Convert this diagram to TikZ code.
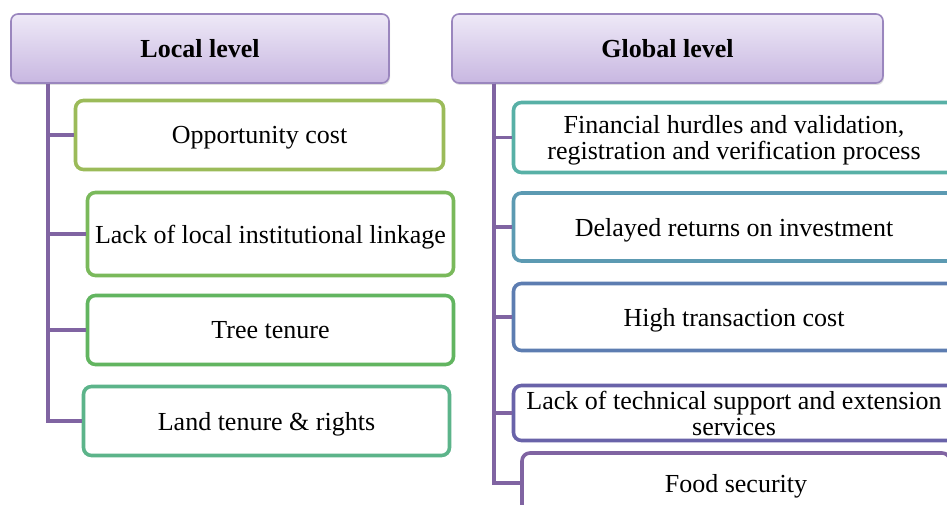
\documentclass[tikz,border=0pt]{standalone}
\usepackage{fontspec}
\setmainfont{Liberation Serif}
\usetikzlibrary{shadows}
\definecolor{hdrborder}{HTML}{9A86BE}
\definecolor{hdrtop}{HTML}{EEE9F7}
\definecolor{hdrbot}{HTML}{C8B7E1}
\definecolor{trunk}{HTML}{8064A2}
\definecolor{cA}{HTML}{9BBB59}
\definecolor{cB}{HTML}{7AB95B}
\definecolor{cC}{HTML}{62B560}
\definecolor{cD}{HTML}{5CB48A}
\definecolor{cE}{HTML}{58B0A6}
\definecolor{cF}{HTML}{5C9AB2}
\definecolor{cG}{HTML}{5D7DB1}
\definecolor{cH}{HTML}{6963A9}
\definecolor{cI}{HTML}{8064A2}
\tikzset{
  hdr/.style={draw=hdrborder, line width=1.6pt, rounded corners=7pt,
    top color=hdrtop, bottom color=hdrbot, align=center,
    font=\fontsize{26}{26}\selectfont\bfseries, inner sep=0pt, text depth=0pt,
    drop shadow={opacity=0.25, shadow xshift=1pt, shadow yshift=-2pt}},
  itembox/.style={draw=#1, fill=white, line width=3.6pt, rounded corners=8pt,
    align=center, font=\fontsize{26}{26}\selectfont, inner sep=0pt, text depth=0pt},
  conn/.style={draw=trunk, line width=3.6pt}
}
\begin{document}
\begin{tikzpicture}[x=1pt, y=-1pt]
\clip (0,0) rectangle (947,505);
\fill[white] (0,0) rectangle (947,505);
% headers
\node[hdr, minimum width=378pt, minimum height=69pt] (lh) at (200,48.5) {Local level};
\node[hdr, minimum width=431pt, minimum height=69pt] (gh) at (667.5,48.5) {Global level};
% local items
\node[itembox=cA, minimum width=368pt, minimum height=69pt] (l1) at (259.5,135) {Opportunity cost};
\node[itembox=cB, minimum width=366pt, minimum height=83pt] (l2) at (270.5,234) {Lack of local institutional linkage};
\node[itembox=cC, minimum width=366pt, minimum height=69pt] (l3) at (270.5,330) {Tree tenure};
\node[itembox=cD, minimum width=366pt, minimum height=69pt] (l4) at (266.5,421) {Land tenure \& rights};
% global items
\node[itembox=cE, minimum width=441pt, minimum height=70pt] (g1) at (734,137.5) {Financial hurdles and validation,\\registration and verification process};
\node[itembox=cF, minimum width=441pt, minimum height=68pt] (g2) at (734,227) {Delayed returns on investment};
\node[itembox=cG, minimum width=441pt, minimum height=67pt] (g3) at (734,317) {High transaction cost};
\node[itembox=cH, minimum width=441pt, minimum height=55pt] (g4) at (734,413) {Lack of technical support and extension\\services};
\node[itembox=cI, minimum width=428pt, minimum height=60pt] (g5) at (736,483) {Food security};
% trunk start coordinates
\coordinate (lt) at (48,84);
\coordinate (gt) at (494,84);
\draw[conn] (lt) |- (l1.west);
\draw[conn] (lt) |- (l2.west);
\draw[conn] (lt) |- (l3.west);
\draw[conn] (lt) |- (l4.west);
\draw[conn] (gt) |- (g1.west);
\draw[conn] (gt) |- (g2.west);
\draw[conn] (gt) |- (g3.west);
\draw[conn] (gt) |- (g4.west);
\draw[conn] (gt) |- (g5.west);
\end{tikzpicture}
\end{document}
